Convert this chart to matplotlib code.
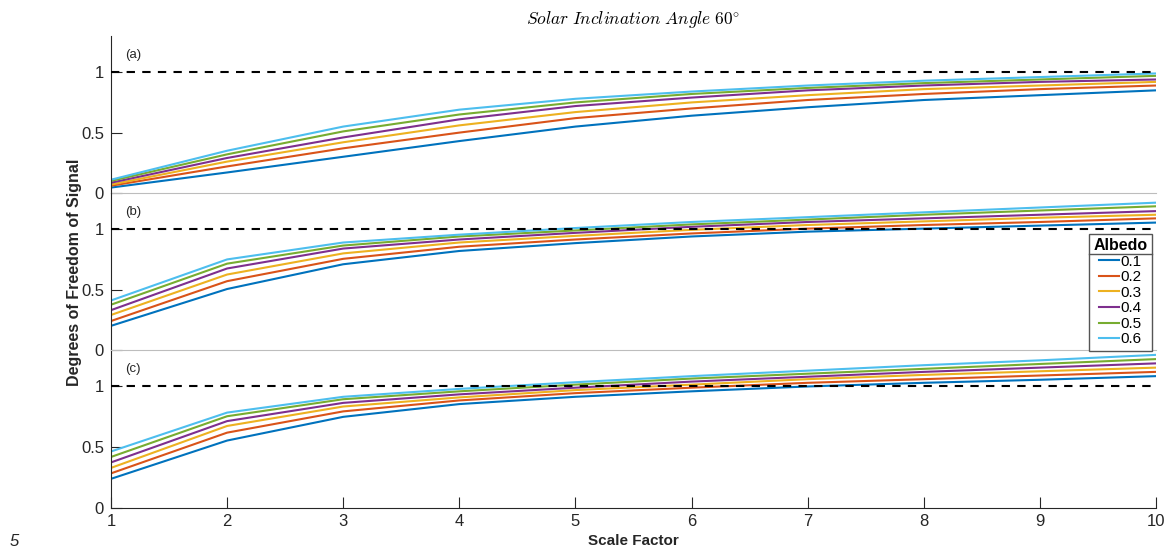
#!/usr/bin/env python3
"""
Degrees of freedom of signal vs scale factor, three panels, one line per albedo.
Saves out.png.
"""
import matplotlib
matplotlib.use('Agg')
import matplotlib.pyplot as plt
from matplotlib.lines import Line2D

# --- data ---
scale_factor = [1, 2, 3, 4, 5, 6, 7, 8, 9, 10]
albedo_labels = ['0.1', '0.2', '0.3', '0.4', '0.5', '0.6']

panel_a = [
    [0.045, 0.17, 0.30, 0.43, 0.55, 0.64, 0.71, 0.77, 0.81, 0.85],
    [0.06, 0.22, 0.37, 0.50, 0.62, 0.70, 0.77, 0.82, 0.86, 0.89],
    [0.07, 0.26, 0.42, 0.56, 0.67, 0.75, 0.81, 0.86, 0.89, 0.92],
    [0.085, 0.29, 0.46, 0.61, 0.72, 0.79, 0.85, 0.89, 0.92, 0.94],
    [0.10, 0.32, 0.51, 0.65, 0.75, 0.82, 0.87, 0.91, 0.94, 0.97],
    [0.11, 0.35, 0.55, 0.69, 0.78, 0.84, 0.89, 0.93, 0.96, 0.99],
]
panel_b = [
    [0.20, 0.505, 0.71, 0.82, 0.885, 0.94, 0.98, 1.005, 1.03, 1.055],
    [0.24, 0.57, 0.755, 0.855, 0.915, 0.965, 1.005, 1.035, 1.06, 1.09],
    [0.29, 0.625, 0.80, 0.89, 0.945, 0.995, 1.035, 1.065, 1.095, 1.12],
    [0.33, 0.675, 0.84, 0.915, 0.97, 1.02, 1.06, 1.09, 1.12, 1.15],
    [0.375, 0.715, 0.865, 0.94, 0.99, 1.04, 1.08, 1.12, 1.155, 1.19],
    [0.41, 0.75, 0.89, 0.955, 1.01, 1.06, 1.10, 1.14, 1.18, 1.22],
]
panel_c = [
    [0.24, 0.555, 0.75, 0.855, 0.915, 0.96, 1.00, 1.03, 1.055, 1.085],
    [0.285, 0.62, 0.795, 0.885, 0.945, 0.99, 1.03, 1.06, 1.09, 1.12],
    [0.33, 0.675, 0.835, 0.91, 0.97, 1.015, 1.06, 1.095, 1.125, 1.155],
    [0.375, 0.715, 0.865, 0.935, 0.99, 1.04, 1.08, 1.12, 1.155, 1.19],
    [0.42, 0.755, 0.895, 0.96, 1.015, 1.065, 1.105, 1.145, 1.185, 1.225],
    [0.465, 0.785, 0.915, 0.98, 1.035, 1.085, 1.13, 1.175, 1.215, 1.26],
]
panel_tags = ['(a)', '(b)', '(c)']
y_ticks = [0, 0.5, 1]
y_ticklabels = ['0', '0.5', '1']

# MATLAB default line colours
colors = ['#0072BD', '#D95319', '#EDB120', '#7E2F8E', '#77AC30', '#4DBEEE']
axis_color = '#262626'

plt.rcParams['font.family'] = ['Liberation Sans', 'DejaVu Sans']
plt.rcParams['mathtext.fontset'] = 'cm'

W, H = 1168, 550
fig = plt.figure(figsize=(W / 100, H / 100), dpi=100)

left, right = 111 / W, 1156 / W
# panel top/bottom edges in pixels
edges = [(36, 193), (193, 350), (350, 508)]

axes = []
for i, (data, tag) in enumerate(zip([panel_a, panel_b, panel_c], panel_tags)):
    top, bot = edges[i]
    ax = fig.add_axes([left, 1 - bot / H, right - left, (bot - top) / H])
    ax.patch.set_visible(False)
    for k, ys in enumerate(data):
        ax.plot(scale_factor, ys, color=colors[k], lw=1.5, label=albedo_labels[k])
    ax.plot([scale_factor[0], scale_factor[-1]], [1, 1], 'k--', lw=1.5,
            dashes=(4, 3.5), zorder=5)

    ax.set_xlim(1, 10)
    ax.set_ylim(0, 1.3)
    ax.set_yticks(y_ticks)
    ax.set_yticklabels(y_ticklabels)
    ax.spines['top'].set_visible(False)
    ax.spines['right'].set_visible(False)
    ax.spines['left'].set_color(axis_color)
    ax.tick_params(axis='y', direction='in', length=8, width=0.8,
                   colors=axis_color, labelsize=12, pad=5)
    ax.text(0.0135, 0.92, tag, transform=ax.transAxes, fontsize=9.5,
            color=axis_color, va='top')

    if i < 2:
        ax.spines['bottom'].set_color('#bdbdbd')
        ax.tick_params(axis='x', bottom=False, labelbottom=False)
    else:
        ax.spines['bottom'].set_color(axis_color)
        ax.set_xticks(scale_factor)
        ax.tick_params(axis='x', direction='in', length=8, width=0.8,
                       colors=axis_color, labelsize=12, pad=4)
    axes.append(ax)

# legend in panel (b), bottom right; panel (b) drawn last so it sits on top
axes[1].set_zorder(3)
leg = axes[1].legend(title='Albedo', loc='lower right',
                     bbox_to_anchor=(1 - 4 / 1045, -1 / 157),
                     fontsize=11, title_fontsize=11.5, frameon=True,
                     fancybox=False, edgecolor='#555555', framealpha=1,
                     handlelength=1.3, handletextpad=0.15, labelspacing=0.1,
                     borderpad=0.3, borderaxespad=0)
leg.get_title().set_fontweight('bold')
leg.get_frame().set_linewidth(1.0)
leg.set_zorder(10)

fig.text((111 + 1156) / 2 / W, 1 - 20 / H,
         r'$Solar\ Inclination\ Angle\ 60^{\circ}$',
         ha='center', va='center', fontsize=12.5)
fig.text(75 / W, 1 - 272 / H, 'Degrees of Freedom of Signal', rotation=90,
         ha='center', va='center', fontsize=11.5, fontweight='bold',
         color=axis_color)
fig.text((111 + 1156) / 2 / W, 1 - 541 / H, 'Scale Factor', ha='center',
         va='center', fontsize=11, fontweight='bold', color=axis_color)
fig.text(10 / W, 1 - 549 / H, '5', ha='left', va='bottom', fontsize=12,
         style='italic', color=axis_color)

# separator line under the legend title, like the MATLAB legend
fig.canvas.draw()
renderer = fig.canvas.get_renderer()
lb = leg.get_window_extent(renderer)
tb = leg.get_title().get_window_extent(renderer)
first = leg.get_texts()[0].get_window_extent(renderer)
y_sep = (tb.y0 + first.y1) / 2 / H
fig.add_artist(Line2D([lb.x0 / W, lb.x1 / W], [y_sep, y_sep],
                      color='#555555', lw=1.0, zorder=20))

fig.savefig('out.png', dpi=100)
